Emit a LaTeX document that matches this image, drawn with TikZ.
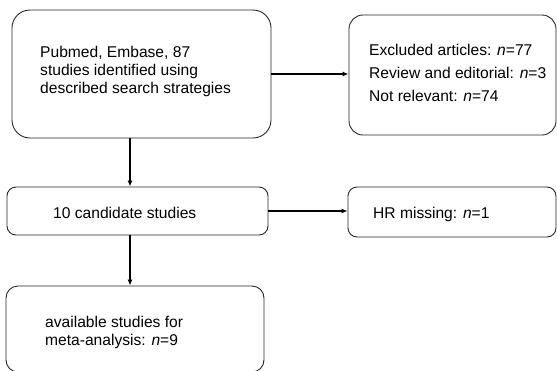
\documentclass[tikz,border=0pt]{standalone}
\usepackage{fontspec}
\setmainfont{Liberation Sans}
\usetikzlibrary{arrows.meta}
\begin{document}
\begin{tikzpicture}[x=1pt,y=-1pt,
  box/.style={draw=black!85,line width=0.9pt,rectangle,inner sep=0pt},
  txt/.style={anchor=base west,inner sep=0pt,font=\fontsize{15.6}{17.7}\selectfont,align=left},
  arr/.style={draw=black,line width=1.1pt,-{Latex[length=6pt,width=5pt]}}]
\useasboundingbox (0,0) rectangle (557,370);
\node[box,rounded corners=18pt,minimum width=259pt,minimum height=128pt] (b1) at (141.5,74) {};
\node[box,rounded corners=14pt,minimum width=207pt,minimum height=120pt] (b5) at (452.5,75) {};
\node[box,rounded corners=9pt,minimum width=261pt,minimum height=48pt] (b2) at (137.5,211) {};
\node[box,rounded corners=9pt,minimum width=208pt,minimum height=50pt] (b3) at (452,212) {};
\node[box,rounded corners=12pt,minimum width=258pt,minimum height=86pt] (b4) at (135,329) {};
\node[txt] (t1) at (40,93) {Pubmed, Embase, 87\\studies identified using\\described search strategies};
\node[txt] (t5a) at (369,55) {Excluded articles: \textit{n}=77};
\node[txt] (t5b) at (369,78) {Review and editorial: \textit{n}=3};
\node[txt] (t5c) at (369,101) {Not relevant: \textit{n}=74};
\node[txt] (t2) at (53,218) {10 candidate studies};
\node[txt] (t3) at (373,218) {HR missing: \textit{n}=1};
\node[txt,font=\fontsize{15.6}{18}\selectfont] (t4) at (45,345) {available studies for\\meta-analysis: \textit{n}=9};
\coordinate (c1) at (130,0);
\draw[arr] (b1.south -| c1) -- (b2.north -| c1);
\draw[arr] (b1.east) -- (b1.east -| b5.west);
\draw[arr] (b2.east) -- (b2.east -| b3.west);
\draw[arr] (b2.south -| c1) -- (b4.north -| c1);
\end{tikzpicture}
\end{document}
